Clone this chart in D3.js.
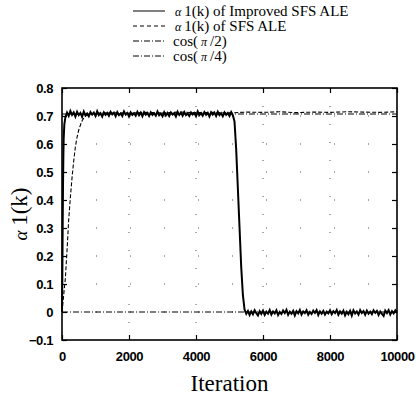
<!DOCTYPE html>
<html>
<head>
<meta charset="utf-8">
<script src="https://cdn.jsdelivr.net/npm/d3@7"></script>
<style>
  body { margin: 0; background: #fff; }
  .tick text { font-family: "Liberation Sans", Arial, sans-serif; font-size: 13px; font-weight: bold; letter-spacing: -0.4px; }
</style>
</head>
<body>
<div id="chart"></div>
<script>
// alpha1(k) of Improved SFS ALE : [iteration, value]
var improved = [
  [0,0],[10,0.12],[20,0.3],[30,0.45],[40,0.55],[50,0.62],[70,0.67],[100,0.695],
  [150,.712],[200,.700],[250,.718],[300,.704],[350,.713],[400,.698],[450,.715],[500,.703],
  [550,.711],[600,.697],[650,.716],[700,.702],[750,.709],[800,.699],[850,.714],[900,.705],
  [950,.712],[1000,.700],[1050,.717],[1100,.703],[1150,.710],[1200,.698],[1250,.713],[1300,.704],
  [1350,.711],[1400,.701],[1450,.715],[1500,.706],[1550,.712],[1600,.699],[1650,.714],[1700,.703],
  [1750,.709],[1800,.700],[1850,.716],[1900,.705],[1950,.711],[2000,.698],[2050,.713],[2100,.704],
  [2150,.710],[2200,.701],[2250,.715],[2300,.703],[2350,.712],[2400,.699],[2450,.714],[2500,.705],
  [2550,.711],[2600,.700],[2650,.713],[2700,.704],[2750,.710],[2800,.701],[2850,.716],[2900,.703],
  [2950,.709],[3000,.699],[3050,.714],[3100,.702],[3150,.711],[3200,.700],[3250,.713],[3300,.705],
  [3350,.710],[3400,.698],[3450,.715],[3500,.704],[3550,.712],[3600,.701],[3650,.714],[3700,.703],
  [3750,.709],[3800,.700],[3850,.713],[3900,.705],[3950,.711],[4000,.699],[4050,.716],[4100,.703],
  [4150,.710],[4200,.701],[4250,.714],[4300,.704],[4350,.711],[4400,.698],[4450,.713],[4500,.705],
  [4550,.712],[4600,.700],[4650,.715],[4700,.703],[4750,.710],[4800,.699],[4850,.713],[4900,.704],
  [4950,.711],[5000,.700],[5050,.714],[5100,.703],
  [5150,.68],[5200,.58],[5250,.44],[5300,.30],[5350,.16],[5400,.06],[5450,.008],
  [5500,-.006],[5550,.004],[5600,-.011],[5650,.002],[5700,-.008],[5750,.006],[5800,-.004],[5850,-.012],
  [5900,.003],[5950,-.007],[6000,.005],[6050,-.010],[6100,.001],[6150,-.006],[6200,.007],[6250,-.009],
  [6300,.002],[6350,-.005],[6400,.006],[6450,-.011],[6500,.000],[6550,-.007],[6600,.005],[6650,-.004],
  [6700,.008],[6750,-.010],[6800,.001],[6850,-.006],[6900,.004],[6950,-.012],[7000,.003],[7050,-.005],
  [7100,.007],[7150,-.009],[7200,.002],[7250,-.004],[7300,.006],[7350,-.010],[7400,.000],[7450,-.007],
  [7500,.005],[7550,-.003],[7600,.007],[7650,-.011],[7700,.002],[7750,-.006],[7800,.004],[7850,-.009],
  [7900,.001],[7950,-.005],[8000,.006],[8050,-.008],[8100,.003],[8150,-.004],[8200,.007],[8250,-.010],
  [8300,.002],[8350,-.006],[8400,.005],[8450,-.012],[8500,.001],[8550,-.008],[8600,.004],[8650,-.013],
  [8700,.006],[8750,-.005],[8800,.002],[8850,-.009],[8900,.007],[8950,-.004],[9000,.003],[9050,-.010],
  [9100,.005],[9150,-.006],[9200,.001],[9250,-.008],[9300,.006],[9350,-.003],[9400,.004],[9450,-.011],
  [9500,.002],[9550,-.007],[9600,-.014],[9650,.005],[9700,-.004],[9750,.007],[9800,-.009],[9850,.003],
  [9900,-.005],[9950,.006],[10000,-.002]
];

// alpha1(k) of SFS ALE
var sfs = [
  [0,0],[50,.06],[100,.12],[150,.22],[200,.33],[250,.41],[300,.48],[350,.54],[400,.59],
  [450,.625],[500,.65],[550,.668],[600,.683],[650,.693],[700,.700],[800,.706],[900,.709],[1000,.710],
  [1500,.712],[2000,.710],[2500,.713],[3000,.711],[3500,.714],[4000,.712],[4500,.713],[5000,.711],
  [5500,.714],[6000,.713],[6500,.715],[7000,.712],[7500,.714],[8000,.713],[8500,.715],[9000,.714],
  [9500,.713],[10000,.715]
];

var refLevels = [Math.cos(Math.PI / 2), Math.cos(Math.PI / 4)];

var legendNames = ["1(k) of Improved SFS ALE", "1(k) of SFS ALE", "cos(", "cos("];
var xTicks = [0, 2000, 4000, 6000, 8000, 10000];
var yTicks = [-0.1, 0, 0.1, 0.2, 0.3, 0.4, 0.5, 0.6, 0.7, 0.8];

var W = 416, H = 397;
var margin = {top: 88, right: 19, bottom: 57, left: 62},
    width = W - margin.left - margin.right,
    height = H - margin.top - margin.bottom;

var svg = d3.select("#chart")
  .append("svg")
    .attr("width", W)
    .attr("height", H);

var g = svg.append("g")
    .attr("transform", "translate(" + margin.left + "," + margin.top + ")");

var x = d3.scaleLinear().domain([0, 10000]).range([0, width]);
var y = d3.scaleLinear().domain([-0.1, 0.8]).range([height, 0]);

// sparse dotted grid
g.selectAll(".vgrid")
  .data(xTicks.slice(1, -1))
  .enter().append("line")
    .attr("x1", function(d) { return x(d); })
    .attr("x2", function(d) { return x(d); })
    .attr("y1", 0).attr("y2", height)
    .attr("stroke", "#555").attr("stroke-width", 1)
    .attr("stroke-dasharray", "1,17");

g.selectAll(".hgrid")
  .data(yTicks.slice(1, -1))
  .enter().append("line")
    .attr("x1", 0).attr("x2", width)
    .attr("y1", function(d) { return y(d); })
    .attr("y2", function(d) { return y(d); })
    .attr("stroke", "#555").attr("stroke-width", 1)
    .attr("stroke-dasharray", "1,33");

// reference cos levels
g.selectAll(".ref")
  .data(refLevels)
  .enter().append("line")
    .attr("x1", 0).attr("x2", width)
    .attr("y1", function(d) { return y(d); })
    .attr("y2", function(d) { return y(d); })
    .attr("stroke", "#000").attr("stroke-width", 1)
    .attr("stroke-dasharray", "6,2,1,2");

var line = d3.line()
  .x(function(d) { return x(d[0]); })
  .y(function(d) { return y(d[1]); });

g.append("path")
  .datum(improved)
  .attr("fill", "none")
  .attr("stroke", "#000")
  .attr("stroke-width", 2)
  .attr("d", line);

g.append("path")
  .datum(sfs)
  .attr("fill", "none")
  .attr("stroke", "#000")
  .attr("stroke-width", 1.1)
  .attr("stroke-dasharray", "4,2")
  .attr("d", line);

// axes, ticks inward
g.append("g")
  .attr("transform", "translate(0," + height + ")")
  .call(d3.axisBottom(x).tickValues(xTicks).tickSizeInner(-5).tickSizeOuter(0).tickPadding(12).tickFormat(d3.format("d")));
g.append("g")
  .call(d3.axisTop(x).tickValues(xTicks).tickSizeInner(-5).tickSizeOuter(0).tickFormat(""));
g.append("g")
  .call(d3.axisLeft(y).tickValues(yTicks).tickSizeInner(-5).tickSizeOuter(0).tickPadding(9)
    .tickFormat(function(d) { return d === 0 ? "0" : (d < 0 ? "\u2212" : "") + Math.abs(d).toFixed(1); }));
g.append("g")
  .attr("transform", "translate(" + width + ",0)")
  .call(d3.axisRight(y).tickValues(yTicks).tickSizeInner(-5).tickSizeOuter(0).tickFormat(""));

g.selectAll(".domain").remove();
g.selectAll(".tick line").attr("stroke", "#000").attr("stroke-width", 1.2);

g.append("rect")
  .attr("width", width).attr("height", height)
  .attr("fill", "none").attr("stroke", "#000").attr("stroke-width", 1.6);

// axis titles
svg.append("text")
  .attr("x", margin.left + width / 2).attr("y", 391)
  .attr("text-anchor", "middle")
  .style("font-family", "Liberation Serif, Times New Roman, serif")
  .style("font-size", "23px")
  .text("Iteration");

var yl = svg.append("text")
  .attr("transform", "translate(27,214) rotate(-90)")
  .attr("text-anchor", "middle")
  .style("font-family", "Liberation Serif, Times New Roman, serif")
  .style("font-size", "23px");
yl.append("tspan").style("font-style", "italic").style("font-size", "19px").text("\u03b1 ");
yl.append("tspan").text("1(k)");

// legend
var dashes = [null, "4,3", "6,2,1,2", "6,2,1,2"];
var legend = svg.append("g").attr("transform", "translate(133,0)");
legendNames.forEach(function(name, i) {
  var yy = 16 + i * 15;
  legend.append("line")
    .attr("x1", 0).attr("x2", 32)
    .attr("y1", yy - 5).attr("y2", yy - 5)
    .attr("stroke", "#000").attr("stroke-width", 1)
    .attr("stroke-dasharray", dashes[i]);
  var t = legend.append("text")
    .attr("x", i < 2 ? 42 : 40).attr("y", yy)
    .style("font-family", "Liberation Serif, Times New Roman, serif")
    .style("font-size", "15px");
  if (i < 2) {
    t.append("tspan").style("font-style", "italic").style("font-size", "12px").text("\u03b1 ");
    t.append("tspan").text(name);
  } else {
    t.append("tspan").text(name);
    t.append("tspan").style("font-style", "italic").style("font-size", "12px").text(" \u03c0 ");
    t.append("tspan").text(i === 2 ? "/2)" : "/4)");
  }
});
</script>
</body>
</html>
